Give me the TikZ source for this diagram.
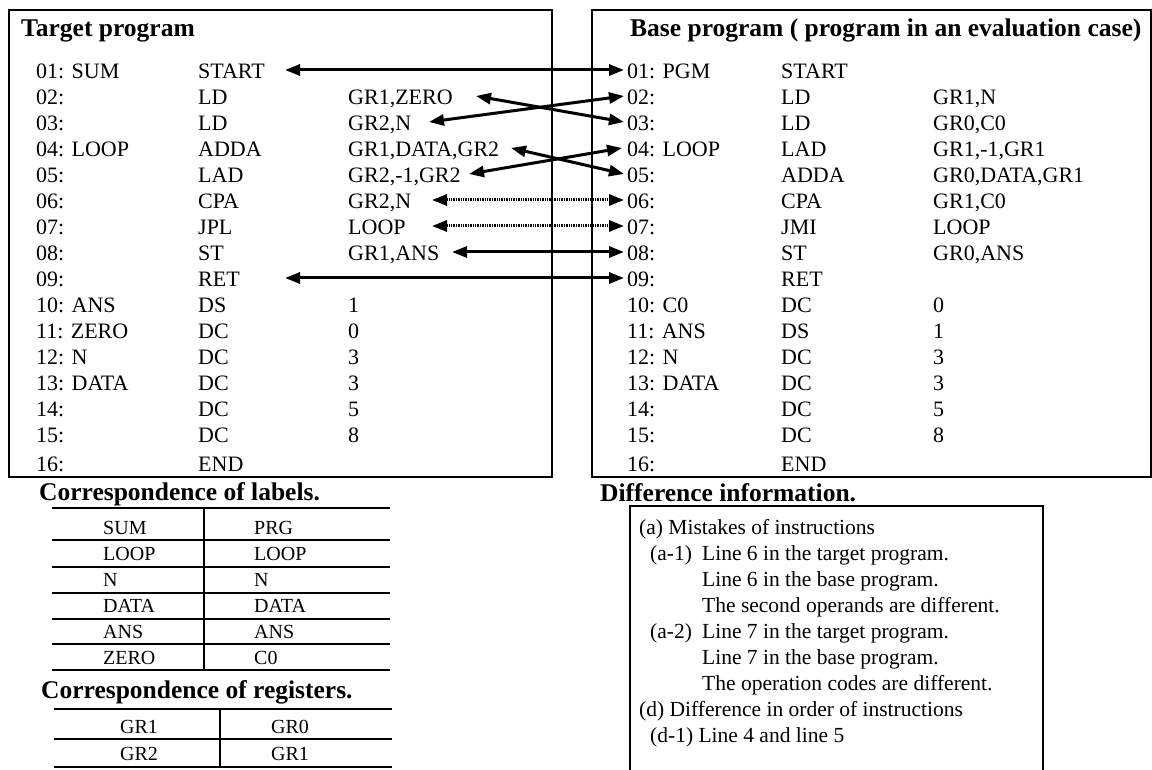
\documentclass[tikz,border=0pt]{standalone}
\usepackage{fontspec}
\setmainfont{Liberation Serif}
\usetikzlibrary{arrows.meta}
\begin{document}
\begin{tikzpicture}[x=1pt,y=-1pt,
  txt/.style={anchor=base west,inner sep=0pt,font=\fontsize{22}{26}\selectfont},
  hd/.style={anchor=base west,inner sep=0pt,font=\fontsize{25.5}{30}\selectfont\bfseries},
  tb/.style={anchor=base west,inner sep=0pt,font=\fontsize{20}{24}\selectfont},
  tbc/.style={anchor=base,inner sep=0pt,font=\fontsize{20}{24}\selectfont},
  dt/.style={anchor=base west,inner sep=0pt,font=\fontsize{21.5}{26}\selectfont},
  frame/.style={draw,line width=2pt},
  link/.style={line width=3pt,{Triangle[length=15pt,width=11pt]}-{Triangle[length=15pt,width=11pt]}},
  dlink/.style={link,dash pattern=on 1.4pt off 1pt},
  trule/.style={line width=2.7pt}
]
\useasboundingbox (0,0) rectangle (1152,770);

% program boxes
\draw[frame] (8.5,10) rectangle (552,476.5);
\draw[frame] (592,10) rectangle (1151,477);
\node[hd] (ttl) at (21,37) {Target program};
\node[hd] (btl) at (630,37) {Base program ( program in an evaluation case)};

% target program
\foreach \k/\a/\b/\c in {
 1/{01: SUM}/START/{},
 2/{02:}/LD/{GR1,ZERO},
 3/{03:}/LD/{GR2,N},
 4/{04: LOOP}/ADDA/{GR1,DATA,GR2},
 5/{05:}/LAD/{GR2,-1,GR2},
 6/{06:}/CPA/{GR2,N},
 7/{07:}/JPL/{LOOP},
 8/{08:}/ST/{GR1,ANS},
 9/{09:}/RET/{},
 10/{10: ANS}/DS/{1},
 11/{11: ZERO}/DC/{0},
 12/{12: N}/DC/{3},
 13/{13: DATA}/DC/{3},
 14/{14:}/DC/{5},
 15/{15:}/DC/{8},
 16/{16:}/END/{}}{
  \pgfmathsetmacro\yb{78.5+26*(\k-1)+(\k==16)*3}
  \node[txt] (La\k) at (36,\yb) {\a};
  \node[txt] (Lb\k) at (198,\yb) {\b};
  \node[txt] (Lc\k) at (348,\yb) {\c};
}

% base program
\foreach \k/\a/\b/\c in {
 1/{01: PGM}/START/{},
 2/{02:}/LD/{GR1,N},
 3/{03:}/LD/{GR0,C0},
 4/{04: LOOP}/LAD/{GR1,-1,GR1},
 5/{05:}/ADDA/{GR0,DATA,GR1},
 6/{06:}/CPA/{GR1,C0},
 7/{07:}/JMI/{LOOP},
 8/{08:}/ST/{GR0,ANS},
 9/{09:}/RET/{},
 10/{10: C0}/DC/{0},
 11/{11: ANS}/DS/{1},
 12/{12: N}/DC/{3},
 13/{13: DATA}/DC/{3},
 14/{14:}/DC/{5},
 15/{15:}/DC/{8},
 16/{16:}/END/{}}{
  \pgfmathsetmacro\yb{78.5+26*(\k-1)+(\k==16)*3}
  \node[txt] (Ra\k) at (627,\yb) {\a};
  \node[txt] (Rb\k) at (781,\yb) {\b};
  \node[txt] (Rc\k) at (933,\yb) {\c};
}

% connector ends
\coordinate (p1) at (285,70);  \coordinate (q1) at (624,70);
\coordinate (p2) at (476,96);  \coordinate (q2) at (624,96);
\coordinate (p3) at (429,122); \coordinate (q3) at (624,122);
\coordinate (p4) at (511,148); \coordinate (q4) at (622,148);
\coordinate (p5) at (469,174); \coordinate (q5) at (624,174);
\coordinate (p6) at (432,200); \coordinate (q6) at (624,200);
\coordinate (p7) at (432,226); \coordinate (q7) at (624,226);
\coordinate (p8) at (452,252); \coordinate (q8) at (624,252);
\coordinate (p9) at (285,278); \coordinate (q9) at (624,278);

\draw[link] (p1) -- (q1);
\draw[link] (p2) -- (q3);
\draw[link] (p3) -- (q2);
\draw[link] (p4) -- (q5);
\draw[link] (p5) -- (q4);
\draw[dlink] (p6) -- (q6);
\draw[dlink] (p7) -- (q7);
\draw[link] (p8) -- (q8);
\draw[link] (p9) -- (q9);

% correspondence of labels
\node[hd] (hl) at (39,500.5) {Correspondence of labels.};
\foreach \yy in {508,540,567,593,619,644,670}{
  \draw[trule] (52,\yy) -- (390,\yy);
}
\draw[trule] (204,508) -- (204,670);
\foreach \k/\a/\b in {1/SUM/PRG,2/LOOP/LOOP,3/N/N,4/DATA/DATA,5/ANS/ANS,6/ZERO/C0}{
  \pgfmathsetmacro\yb{534.5+26*(\k-1)}
  \node[tb] (la\k) at (103,\yb) {\a};
  \node[tb] (lb\k) at (254,\yb) {\b};
}

% correspondence of registers
\node[hd] (hr) at (41,698.5) {Correspondence of registers.};
\foreach \yy in {709,739,767}{
  \draw[trule] (54,\yy) -- (392,\yy);
}
\draw[trule] (220,709) -- (220,767);
\node[tbc] (ra1) at (139,733.5) {GR1};
\node[tbc] (rb1) at (290,733.5) {GR0};
\node[tbc] (ra2) at (139,760) {GR2};
\node[tbc] (rb2) at (290,760) {GR1};

% difference information
\node[hd] (hdiff) at (600,501.5) {Difference information.};
\draw[line width=2pt] (630,772) -- (630,506) -- (1043,506) -- (1043,772);
\node[dt] (d1) at (639,534.3) {(a) Mistakes of instructions};
\node[dt] (d2a) at (650,560.3) {(a-1)};
\node[dt] (d2b) at (702,560.3) {Line 6 in the target program.};
\node[dt] (d3) at (702,586.3) {Line 6 in the base program.};
\node[dt] (d4) at (702,612.3) {The second operands are different.};
\node[dt] (d5a) at (650,638.3) {(a-2)};
\node[dt] (d5b) at (702,638.3) {Line 7 in the target program.};
\node[dt] (d6) at (702,664.3) {Line 7 in the base program.};
\node[dt] (d7) at (702,690.3) {The operation codes are different.};
\node[dt] (d8) at (639,716.3) {(d) Difference in order of instructions};
\node[dt] (d9) at (650,742.3) {(d-1) Line 4 and line 5};
\end{tikzpicture}
\end{document}
